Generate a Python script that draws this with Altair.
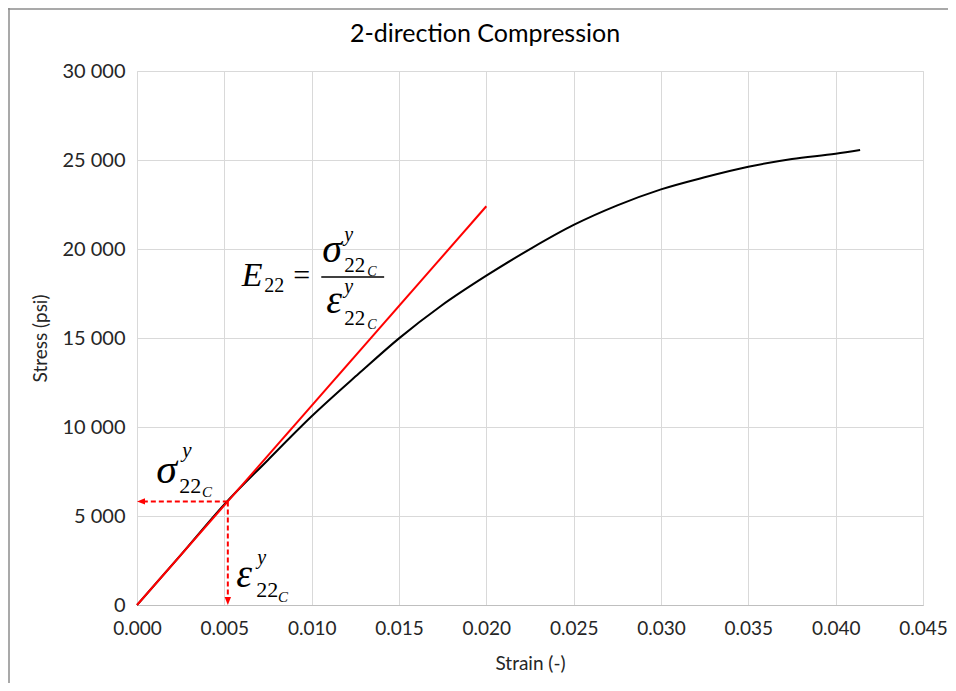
import altair as alt
import pandas as pd

# ---- data ----
strain = [0.0, 0.0025, 0.0050, 0.0075, 0.0100, 0.0127, 0.0150, 0.0174, 0.0200,
          0.0226, 0.0250, 0.0275, 0.0300, 0.0325, 0.0350, 0.0375, 0.0400, 0.0414]
stress = [0, 2800, 5650, 8150, 10600, 13000, 14980, 16800, 18500,
          20050, 21350, 22450, 23350, 24030, 24620, 25060, 25350, 25560]

modulus_strain = [0.0, 0.020]
modulus_stress = [0, 22400]

yield_strain = 0.0052
yield_stress = 5820

x_ticks = [0.000, 0.005, 0.010, 0.015, 0.020, 0.025, 0.030, 0.035, 0.040, 0.045]
y_ticks = [0, 5000, 10000, 15000, 20000, 25000, 30000]

W, H = 786, 534
FONT = "Lato"
MATH = "Liberation Serif"
TXT = "#262626"

curve_df = pd.DataFrame({"strain": strain, "stress": stress})
mod_df = pd.DataFrame({"strain": modulus_strain, "stress": modulus_stress})

xs = alt.Scale(domain=[0, 0.045], nice=False, zero=False)
ys = alt.Scale(domain=[0, 30000], nice=False, zero=False)

xax = alt.Axis(values=x_ticks, format=".3f", grid=True, gridColor="#D9D9D9",
               domainColor="#BFBFBF", ticks=False, labelFont=FONT, labelFontSize=19,
               labelColor=TXT, labelPadding=14, labelFlush=False, title="Strain (-)",
               titleFont=FONT, titleFontSize=19, titleFontWeight="normal",
               titleColor=TXT, titleX=393, titleY=58, titleBaseline="middle")
yax = alt.Axis(values=y_ticks, grid=True, gridColor="#D9D9D9", domain=False,
               ticks=False, labelFont=FONT, labelFontSize=20, labelColor=TXT,
               labelPadding=12, labelFlush=False,
               labelExpr="datum.value == 0 ? '0' : replace(format(datum.value, ','), ',', ' ')",
               title="Stress (psi)", titleFont=FONT, titleFontSize=19,
               titleFontWeight="normal", titleColor=TXT, titleX=-97, titleY=267,
               titleBaseline="middle")

curve = alt.Chart(curve_df).mark_line(color="black", strokeWidth=2,
                                      interpolate="monotone").encode(
    x=alt.X("strain:Q", scale=xs, axis=xax),
    y=alt.Y("stress:Q", scale=ys, axis=yax),
)
modline = alt.Chart(mod_df).mark_line(color="#FF0000", strokeWidth=2).encode(
    x=alt.X("strain:Q", scale=xs), y=alt.Y("stress:Q", scale=ys)
)

# dashed arrows
arr_df = pd.DataFrame({
    "x": [yield_strain, yield_strain],
    "x2": [0.00045, yield_strain],
    "y": [yield_stress, yield_stress],
    "y2": [yield_stress, 450],
})
arrows = alt.Chart(arr_df).mark_rule(color="#FF0000", strokeWidth=2,
                                      strokeDash=[5, 3]).encode(
    x=alt.X("x:Q", scale=xs), x2="x2:Q", y=alt.Y("y:Q", scale=ys), y2="y2:Q"
)
head_left = alt.Chart(pd.DataFrame({"x": [0.0], "y": [yield_stress]})).mark_point(
    shape="M 0 0 L 2 -0.8 L 2 0.8 Z", size=64, filled=True, color="#FF0000", opacity=1
).encode(x=alt.X("x:Q", scale=xs), y=alt.Y("y:Q", scale=ys))
head_down = alt.Chart(pd.DataFrame({"x": [yield_strain], "y": [0]})).mark_point(
    shape="M 0 0 L -0.8 -2 L 0.8 -2 Z", size=64, filled=True, color="#FF0000", opacity=1
).encode(x=alt.X("x:Q", scale=xs), y=alt.Y("y:Q", scale=ys))

# math annotations (strain, stress positions, left aligned, alphabetic baseline)
ann = pd.DataFrame([
    # E_22 = sigma / epsilon
    ("E", 0.00600, 17921, 34, "italic"),
    ("22", 0.00728, 17584, 20, "normal"),
    ("=", 0.00895, 17978, 30, "normal"),
    ("σ", 0.01060, 19270, 40, "italic"),
    ("y", 0.01186, 20450, 20, "italic"),
    ("22", 0.01186, 18708, 21, "normal"),
    ("C", 0.01318, 18483, 14, "italic"),
    ("ε", 0.01083, 16405, 40, "italic"),
    ("y", 0.01186, 17528, 20, "italic"),
    ("22", 0.01186, 15730, 21, "normal"),
    ("C", 0.01318, 15506, 14, "italic"),
    # sigma label
    ("σ", 0.00110, 6854, 42, "italic"),
    ("y", 0.00259, 8315, 21, "italic"),
    ("22", 0.00242, 6292, 22, "normal"),
    ("C", 0.00372, 6067, 15, "italic"),
    # epsilon label
    ("ε", 0.00568, 1011, 40, "italic"),
    ("y", 0.00688, 2303, 20, "italic"),
    ("22", 0.00683, 449, 22, "normal"),
    ("C", 0.00807, 169, 15, "italic"),
], columns=["t", "x", "y", "s", "st"])

layers = []
for (s, st), g in ann.groupby(["s", "st"]):
    layers.append(
        alt.Chart(g).mark_text(font=MATH, fontSize=int(s), fontStyle=st, align="left",
                               baseline="alphabetic", color="black").encode(
            x=alt.X("x:Q", scale=xs), y=alt.Y("y:Q", scale=ys), text="t:N")
    )

frac = alt.Chart(pd.DataFrame({"x": [0.01055], "x2": [0.01415], "y": [18427]})).mark_rule(
    color="black", strokeWidth=1.5).encode(
    x=alt.X("x:Q", scale=xs), x2="x2:Q", y=alt.Y("y:Q", scale=ys))

title = alt.Chart(pd.DataFrame({"t": ["2-direction Compression"]})).mark_text(
    font=FONT, fontSize=25, color="#000000", align="center", baseline="middle"
).encode(x=alt.value(348), y=alt.value(-37), text="t:N")

border = alt.Chart(pd.DataFrame({"a": [0]})).mark_rule(color="#8C8C8C", strokeWidth=1.5).encode(
    x=alt.value(-128), x2=alt.value(-128), y=alt.value(-63), y2=alt.value(612))
border_top = alt.Chart(pd.DataFrame({"a": [0]})).mark_rule(color="#8C8C8C", strokeWidth=1.5).encode(
    x=alt.value(-129), x2=alt.value(811), y=alt.value(-62), y2=alt.value(-62))

chart = alt.layer(curve, modline, arrows, head_left, head_down, frac, *layers, title,
                  border, border_top).properties(
    width=W, height=H,
    padding={"left": 129, "top": 63, "right": 25, "bottom": 78},
    autosize=alt.AutoSizeParams(type="none"),
).configure_view(stroke=None).configure(background="white")

chart.save("out.html", embed_options={"renderer": "svg", "actions": False})
